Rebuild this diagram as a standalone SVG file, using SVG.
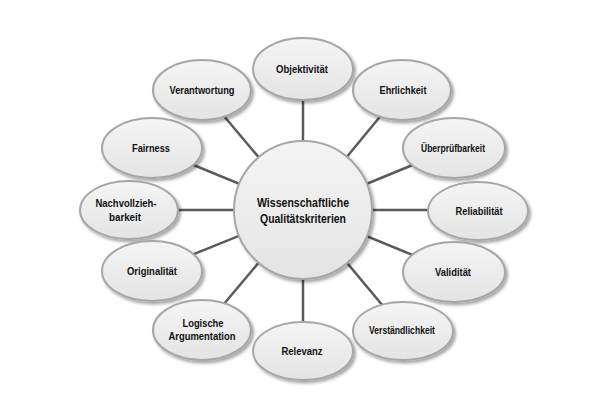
<svg xmlns="http://www.w3.org/2000/svg" width="600" height="401" viewBox="0 0 600 401">
<defs>
<linearGradient id="g" x1="0" y1="0" x2="0" y2="1">
<stop offset="0" stop-color="#f5f5f5"/>
<stop offset="1" stop-color="#e4e4e4"/>
</linearGradient>
<filter id="sh" x="-20%" y="-20%" width="150%" height="150%">
<feDropShadow dx="2" dy="2.5" stdDeviation="1.5" flood-color="#000" flood-opacity="0.35"/>
</filter>
</defs>
<style>
.n{fill:url(#g);stroke:#a6a6a6;stroke-width:2;filter:url(#sh)}
.t{font-family:"Liberation Sans",Arial,sans-serif;font-weight:bold;font-size:11.5px;fill:#111;text-anchor:middle}
.s{font-size:10.5px}
.c{font-size:13.5px}
#connectors line{stroke:#5a5a5a;stroke-width:2.5}
</style>
<rect width="600" height="401" fill="#fff"/>
<g id="connectors">
<line x1="303" y1="69" x2="303" y2="210"/>
<line x1="202" y1="90" x2="303" y2="210"/>
<line x1="402" y1="90" x2="303" y2="210"/>
<line x1="152" y1="148" x2="303" y2="210"/>
<line x1="454" y1="148" x2="303" y2="210"/>
<line x1="129" y1="210" x2="303" y2="210"/>
<line x1="478" y1="210" x2="303" y2="210"/>
<line x1="152" y1="271" x2="303" y2="210"/>
<line x1="454" y1="272" x2="303" y2="210"/>
<line x1="202" y1="330" x2="303" y2="210"/>
<line x1="403" y1="330" x2="303" y2="210"/>
<line x1="303" y1="351" x2="303" y2="210"/>
</g>
<g id="center"><circle class="n" cx="303" cy="210" r="69"/>
<text class="t c" x="303" y="207" textLength="92" lengthAdjust="spacingAndGlyphs">Wissenschaftliche</text>
<text class="t c" x="303" y="223" textLength="86" lengthAdjust="spacingAndGlyphs">Qualitätskriterien</text></g>
<g id="objektivitaet"><ellipse class="n" cx="303" cy="69" rx="50" ry="31"/>
<text class="t" x="302" y="72.5" textLength="52" lengthAdjust="spacingAndGlyphs">Objektivität</text></g>
<g id="verantwortung"><ellipse class="n" cx="202" cy="90" rx="49" ry="30"/>
<text class="t" x="202" y="94" textLength="65" lengthAdjust="spacingAndGlyphs">Verantwortung</text></g>
<g id="ehrlichkeit"><ellipse class="n" cx="402" cy="90" rx="49" ry="30"/>
<text class="t" x="403" y="94" textLength="47" lengthAdjust="spacingAndGlyphs">Ehrlichkeit</text></g>
<g id="fairness"><ellipse class="n" cx="152" cy="148" rx="50" ry="30"/>
<text class="t" x="151" y="152" textLength="38" lengthAdjust="spacingAndGlyphs">Fairness</text></g>
<g id="ueberpruefbarkeit"><ellipse class="n" cx="454" cy="148" rx="51" ry="30"/>
<text class="t s" x="453" y="151.5" textLength="64" lengthAdjust="spacingAndGlyphs">Überprüfbarkeit</text></g>
<g id="nachvollziehbarkeit"><ellipse class="n" cx="129" cy="210" rx="49" ry="29"/>
<text class="t" x="126" y="207" textLength="61" lengthAdjust="spacingAndGlyphs">Nachvollzieh-</text>
<text class="t" x="125" y="221" textLength="32" lengthAdjust="spacingAndGlyphs">barkeit</text></g>
<g id="reliabilitaet"><ellipse class="n" cx="478" cy="211" rx="50" ry="29"/>
<text class="t" x="479" y="214.5" textLength="47" lengthAdjust="spacingAndGlyphs">Reliabilität</text></g>
<g id="originalitaet"><ellipse class="n" cx="152" cy="271" rx="50" ry="30"/>
<text class="t" x="152" y="274.5" textLength="50" lengthAdjust="spacingAndGlyphs">Originalität</text></g>
<g id="validitaet"><ellipse class="n" cx="454" cy="272" rx="51" ry="30"/>
<text class="t" x="453" y="276" textLength="36" lengthAdjust="spacingAndGlyphs">Validität</text></g>
<g id="logische"><ellipse class="n" cx="202" cy="330" rx="49" ry="30"/>
<text class="t" x="203" y="326.5" textLength="41" lengthAdjust="spacingAndGlyphs">Logische</text>
<text class="t" x="202" y="340" textLength="67" lengthAdjust="spacingAndGlyphs">Argumentation</text></g>
<g id="verstaendlichkeit"><ellipse class="n" cx="403" cy="331" rx="50" ry="29"/>
<text class="t s" x="402" y="334" textLength="66" lengthAdjust="spacingAndGlyphs">Verständlichkeit</text></g>
<g id="relevanz"><ellipse class="n" cx="303" cy="351" rx="50" ry="29"/>
<text class="t" x="302" y="355" textLength="41" lengthAdjust="spacingAndGlyphs">Relevanz</text></g>
</svg>
